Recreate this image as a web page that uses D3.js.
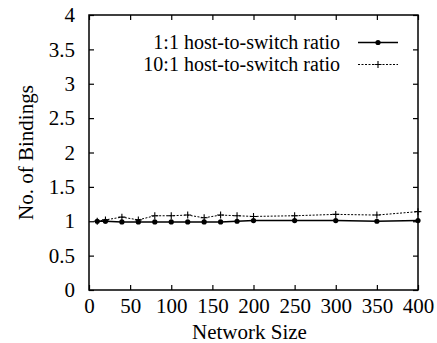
<!DOCTYPE html>
<html><head><meta charset="utf-8">
<script src="https://cdn.jsdelivr.net/npm/d3@7"></script>
<style>body{margin:0;background:#fff}svg{display:block}text{font-family:"Liberation Serif","Times New Roman",serif;fill:#000}</style>
</head><body><svg id="c" width="437" height="343"></svg>
<script>
const sizes = [10, 20, 40, 60, 80, 100, 120, 140, 160, 180, 200, 250, 300, 350, 400];
const ratio1to1 = [1.0, 1.0, 0.99, 0.99, 0.99, 0.99, 0.99, 0.99, 0.99, 1.0, 1.01, 1.01, 1.01, 1.0, 1.01];
const ratio10to1 = [1.0, 1.02, 1.06, 1.02, 1.08, 1.08, 1.09, 1.05, 1.09, 1.08, 1.07, 1.08, 1.1, 1.09, 1.14];
const xTicks = [0, 50, 100, 150, 200, 250, 300, 350, 400];
const yTicks = [0, 0.5, 1, 1.5, 2, 2.5, 3, 3.5, 4];
const seriesNames = ["1:1 host-to-switch ratio", "10:1 host-to-switch ratio"];

const L = 89, R = 418, T = 15, B = 290;
const svg = d3.select("#c");
const x = d3.scaleLinear().domain([0, 400]).range([L, R]);
const y = d3.scaleLinear().domain([0, 4]).range([B, T]);
const fs = 21, lfs = 20;

svg.append("rect").attr("x", L).attr("y", T).attr("width", R - L).attr("height", B - T)
  .attr("fill", "none").attr("stroke", "#000").attr("stroke-width", 1.5);

const gB = svg.append("g").attr("transform", `translate(0,${B})`)
  .call(d3.axisBottom(x).tickValues(xTicks).tickSize(-5).tickPadding(8).tickFormat(d3.format("d")));
const gT = svg.append("g").attr("transform", `translate(0,${T})`)
  .call(d3.axisTop(x).tickValues(xTicks).tickSize(-5).tickFormat(""));
const gL = svg.append("g").attr("transform", `translate(${L},0)`)
  .call(d3.axisLeft(y).tickValues(yTicks).tickSize(-5).tickPadding(14).tickFormat(d => String(d)));
const gR = svg.append("g").attr("transform", `translate(${R},0)`)
  .call(d3.axisRight(y).tickValues(yTicks).tickSize(-5).tickFormat(""));
[gB, gT, gL, gR].forEach(g => {
  g.select(".domain").remove();
  g.selectAll(".tick line").attr("stroke", "#000").attr("stroke-width", 1.2);
  g.selectAll("text").style("font-size", fs + "px").style("font-family", '"Liberation Serif",serif').attr("fill", "#000");
});

svg.append("text").attr("x", (L + R) / 2 - 4).attr("y", 339).attr("text-anchor", "middle")
  .style("font-size", fs + "px").text("Network Size");
svg.append("text").attr("transform", `translate(26,${(T + B) / 2}) rotate(-90)`).attr("text-anchor", "middle")
  .attr("dy", "0.35em").style("font-size", fs + "px").text("No. of Bindings");

const line = d3.line().x(d => x(d[0])).y(d => y(d[1]));
const d1 = sizes.map((s, i) => [s, ratio1to1[i]]);
const d2 = sizes.map((s, i) => [s, ratio10to1[i]]);

svg.append("path").datum(d2).attr("d", line).attr("fill", "none").attr("stroke", "#000")
  .attr("stroke-width", 1).attr("stroke-dasharray", "2,1.5");
svg.append("path").datum(d1).attr("d", line).attr("fill", "none").attr("stroke", "#000").attr("stroke-width", 1.4);

svg.selectAll(".p2").data(d2).enter().append("path")
  .attr("d", d => `M${x(d[0]) - 3.5},${y(d[1])}h7M${x(d[0])},${y(d[1]) - 3.5}v7`)
  .attr("stroke", "#000").attr("stroke-width", 1.1);
svg.selectAll(".p1").data(d1).enter().append("circle")
  .attr("cx", d => x(d[0])).attr("cy", d => y(d[1])).attr("r", 2.6).attr("fill", "#000");

const rowsY = [42.5, 64.5];
seriesNames.forEach((n, i) => {
  svg.append("text").attr("text-anchor", "end").style("font-size", lfs + "px")
    .attr("x", 340).attr("y", rowsY[i]).attr("dy", "0.32em").text(n);
});
rowsY.forEach((ly, i) => {
  const dash = i === 1 ? "2,1.5" : null;
  svg.append("line").attr("x1", 358).attr("x2", 398).attr("y1", ly).attr("y2", ly)
    .attr("stroke", "#000").attr("stroke-width", dash ? 1 : 1.4).attr("stroke-dasharray", dash);
  if (i === 0) svg.append("circle").attr("cx", 378).attr("cy", ly).attr("r", 2.6).attr("fill", "#000");
  else svg.append("path").attr("d", `M374.5,${ly}h7M378,${ly - 3.5}v7`).attr("stroke", "#000").attr("stroke-width", 1.1);
});
</script></body></html>
